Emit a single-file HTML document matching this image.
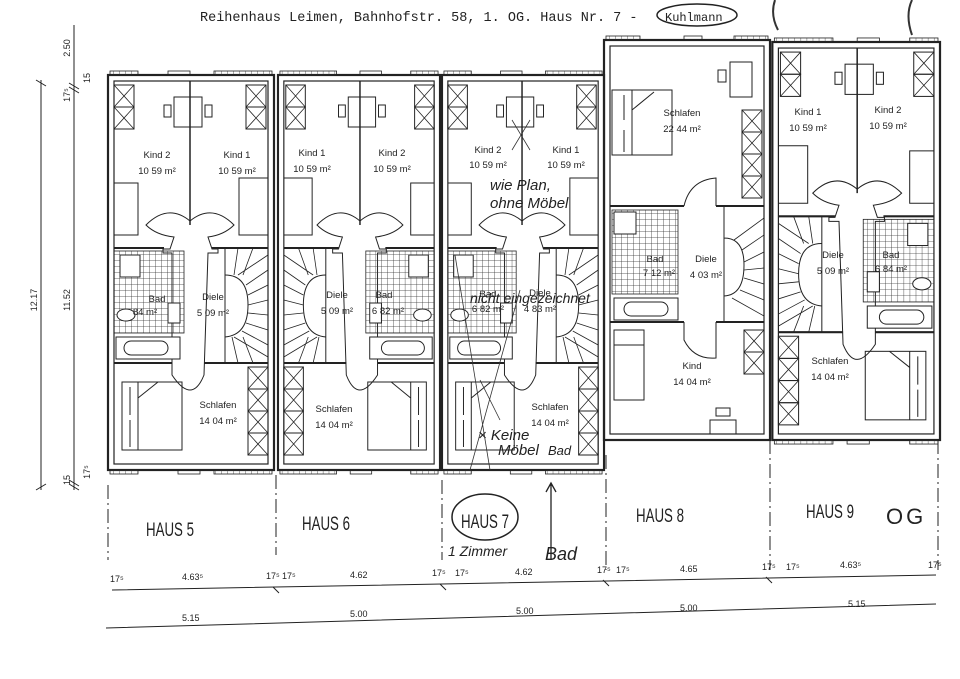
<!DOCTYPE html>
<html><head><meta charset="utf-8"><style>
html,body{margin:0;padding:0;background:#fff;}
svg{display:block}
text{font-family:"Liberation Sans",sans-serif;fill:#222}
.m{font-family:"Liberation Mono",monospace}
.h{font-family:"Liberation Sans",sans-serif;fill:#111;font-style:italic}
</style></head><body>
<svg width="960" height="679" viewBox="0 0 960 679" xmlns="http://www.w3.org/2000/svg">
<defs>
<pattern id="grid" width="6" height="6" patternUnits="userSpaceOnUse"><path d="M6 0V6M0 6H6" stroke="#333" stroke-width="0.8" fill="none"/></pattern>
<g id="xb"><rect x="0" y="0" width="20" height="22" fill="none" stroke="#222" stroke-width="1"/><path d="M0 0L20 22M20 0L0 22" stroke="#222" stroke-width="0.8"/></g>
<g id="hA" fill="none" stroke="#222">
 <rect x="0" y="0" width="166" height="395" stroke-width="2.2"/>
 <rect x="6" y="6" width="154" height="383" stroke-width="1.2"/>
 <rect x="2" y="-4" width="28" height="4" stroke-width="0.8" fill="url(#grid)"/>
 <rect x="60" y="-4" width="22" height="4" stroke-width="0.8"/>
 <rect x="106" y="-4" width="58" height="4" stroke-width="0.8" fill="url(#grid)"/>
 <rect x="2" y="395" width="28" height="4" stroke-width="0.8" fill="url(#grid)"/>
 <rect x="70" y="395" width="22" height="4" stroke-width="0.8"/>
 <rect x="106" y="395" width="58" height="4" stroke-width="0.8" fill="url(#grid)"/>
 <use href="#xb" x="6" y="10"/><use href="#xb" x="6" y="32"/>
 <use href="#xb" x="138" y="10"/><use href="#xb" x="138" y="32"/>
 <rect x="66" y="22" width="28" height="30" stroke-width="1"/>
 <rect x="56" y="30" width="7" height="12" stroke-width="1"/>
 <rect x="97" y="30" width="7" height="12" stroke-width="1"/>
 <path d="M82 6V150" stroke-width="1.5"/>
 <path d="M6 108H30V160H6M160 103H131V160H160" stroke-width="1"/>
 <path d="M38 150Q60 128 82 146Q104 128 126 150Q116 160 100 162L104 174H110V178H100L96 300Q84 330 64 300V178H55V174H62L66 162Q48 160 38 150Z" stroke-width="1"/>
 <path d="M6 173H56M104 173H160M6 288H64M96 288H160" stroke-width="2"/>
 <rect x="6" y="176" width="70" height="82" fill="url(#grid)" stroke-width="0.8"/>
 <rect x="12" y="180" width="20" height="22" fill="#fff" stroke-width="1"/>
 <ellipse cx="18" cy="240" rx="9" ry="6" fill="#fff" stroke-width="1"/>
 <rect x="60" y="228" width="12" height="20" fill="#fff" stroke-width="1"/>
 <rect x="8" y="262" width="64" height="22" fill="#fff" stroke-width="1"/>
 <rect x="16" y="266" width="44" height="14" rx="7" stroke-width="1"/>
 <path d="M117 173V288M117 173H160M117 288H160" stroke-width="1"/>
 <path d="M117 200Q140 200 140 230Q140 260 117 262" stroke-width="1"/>
 <path d="M160 180L130 200M160 195L138 210M160 210L140 220M160 225L140 230M160 240L140 238M160 255L138 248M160 270L134 256M160 282L126 262M145 173L135 200M130 173L126 200M145 288L135 262M130 288L124 262" stroke-width="0.8"/>
 <use href="#xb" x="140" y="292"/><use href="#xb" x="140" y="314"/><use href="#xb" x="140" y="336"/><use href="#xb" x="140" y="358"/>
 <rect x="14" y="307" width="60" height="68" stroke-width="1"/>
 <path d="M30 307V375M30 323L50 307M22 312V340M22 345V372" stroke-width="1"/>
</g>
<g id="hB" fill="none" stroke="#222">
 <rect x="0" y="0" width="166" height="400" stroke-width="2.2"/>
 <rect x="6" y="6" width="154" height="388" stroke-width="1.2"/>
 <rect x="2" y="-4" width="34" height="4" fill="url(#grid)" stroke-width="0.8"/>
 <rect x="80" y="-4" width="18" height="4" stroke-width="0.8"/>
 <rect x="130" y="-4" width="34" height="4" fill="url(#grid)" stroke-width="0.8"/>
 <rect x="126" y="22" width="22" height="35" stroke-width="1"/>
 <rect x="114" y="30" width="8" height="12" stroke-width="1"/>
 <rect x="8" y="50" width="60" height="65" stroke-width="1"/>
 <path d="M28 50V115M28 70L50 52M20 55V80M20 90V112" stroke-width="1"/>
 <use href="#xb" x="138" y="70"/><use href="#xb" x="138" y="92"/><use href="#xb" x="138" y="114"/><use href="#xb" x="138" y="136"/>
 <path d="M6 166H80M112 166H160M6 282H80M112 282H160" stroke-width="2"/>
 <path d="M80 166Q86 140 112 138V166M80 282V300Q90 320 112 318V282" stroke-width="1"/>
 <rect x="8" y="170" width="66" height="84" fill="url(#grid)" stroke-width="0.8"/>
 <rect x="10" y="172" width="22" height="22" fill="#fff" stroke-width="1"/>
 <rect x="10" y="258" width="64" height="22" fill="#fff" stroke-width="1"/>
 <rect x="20" y="262" width="44" height="14" rx="7" stroke-width="1"/>
 <path d="M120 166V282M120 166H160M120 282H160M120 198Q140 198 140 225Q140 255 120 256" stroke-width="1"/>
 <path d="M160 178L130 200M160 195L138 210M160 212L140 222M160 228L140 230M160 244L140 238M160 260L136 250M160 276L128 258" stroke-width="0.8"/>
 <use href="#xb" x="140" y="290"/><use href="#xb" x="140" y="312"/>
 <rect x="10" y="290" width="30" height="70" stroke-width="1"/>
 <path d="M10 305H40" stroke-width="1"/>
 <rect x="106" y="380" width="26" height="14" stroke-width="1"/>
 <rect x="112" y="368" width="14" height="8" stroke-width="1"/>
</g>
</defs>

<text x="200" y="21" class="m" font-size="13.5">Reihenhaus Leimen, Bahnhofstr. 58, 1. OG. Haus Nr. 7 -</text>
<text x="665" y="21" class="m" font-size="12">Kuhlmann</text>
<ellipse cx="697" cy="15" rx="40" ry="11" fill="none" stroke="#222" stroke-width="1.5"/>
<path d="M775 0Q770 15 778 30M912 0Q905 15 912 35" stroke="#333" stroke-width="2" fill="none"/>

<use href="#hA" x="108" y="75"/>
<use href="#hA" transform="translate(440,75) scale(-0.976,1)"/>
<use href="#hA" transform="translate(442,75) scale(0.976,1)"/>
<use href="#hB" x="604" y="40"/>
<use href="#hA" transform="translate(940,42) scale(-1.01,1.0076)"/>

<g font-size="9.5" text-anchor="middle">
<text x="157" y="158">Kind 2</text><text x="157" y="174">10 59 m²</text>
<text x="237" y="158">Kind 1</text><text x="237" y="174">10 59 m²</text>
<text x="213" y="300">Diele</text><text x="213" y="316">5 09 m²</text>
<text x="157" y="302">Bad</text><text x="145" y="315">84 m²</text>
<text x="218" y="408">Schlafen</text><text x="218" y="424">14 04 m²</text>

<text x="312" y="156">Kind 1</text><text x="312" y="172">10 59 m²</text>
<text x="392" y="156">Kind 2</text><text x="392" y="172">10 59 m²</text>
<text x="337" y="298">Diele</text><text x="337" y="314">5 09 m²</text>
<text x="384" y="298">Bad</text><text x="388" y="314">6 82 m²</text>
<text x="334" y="412">Schlafen</text><text x="334" y="428">14 04 m²</text>

<text x="488" y="153">Kind 2</text><text x="488" y="168">10 59 m²</text>
<text x="566" y="153">Kind 1</text><text x="566" y="168">10 59 m²</text>
<text x="540" y="296">Diele</text><text x="540" y="312">4 83 m²</text>
<text x="488" y="297">Bad</text><text x="488" y="312">6 82 m²</text>
<text x="550" y="410">Schlafen</text><text x="550" y="426">14 04 m²</text>

<text x="682" y="116">Schlafen</text><text x="682" y="132">22 44 m²</text>
<text x="655" y="262">Bad</text><text x="659" y="276">7 12 m²</text>
<text x="706" y="262">Diele</text><text x="706" y="278">4 03 m²</text>
<text x="692" y="369">Kind</text><text x="692" y="385">14 04 m²</text>

<text x="808" y="115">Kind 1</text><text x="808" y="131">10 59 m²</text>
<text x="888" y="113">Kind 2</text><text x="888" y="129">10 59 m²</text>
<text x="833" y="258">Diele</text><text x="833" y="274">5 09 m²</text>
<text x="891" y="258">Bad</text><text x="891" y="272">6 84 m²</text>
<text x="830" y="364">Schlafen</text><text x="830" y="380">14 04 m²</text>
</g>

<!-- left dims -->
<g stroke="#222" stroke-width="1" fill="none">
<path d="M41 80V490M74 25V490M36 80L46 86M36 490L46 484M69 83L79 89M69 87L79 93M69 480L79 486M69 484L79 490"/>
<path d="M108 485V560M276 475V555M442 480V560M606 455V570M770 440V570M938 440V570" stroke-dasharray="14,4,2,4"/>
<path d="M112 590L936 575M106 628L936 604"/>
<path d="M440 584L446 590M603 580L609 586M766 577L772 583M273 587L279 593"/>
</g>
<g font-size="9" fill="#222">
<text transform="translate(37,300) rotate(-90)" text-anchor="middle">12.17</text>
<text transform="translate(70,300) rotate(-90)" text-anchor="middle">11.52</text>
<text transform="translate(70,48) rotate(-90)" text-anchor="middle">2.50</text>
<text transform="translate(70,95) rotate(-90)" text-anchor="middle">17⁵</text>
<text transform="translate(90,78) rotate(-90)" text-anchor="middle">15</text>
<text transform="translate(70,480) rotate(-90)" text-anchor="middle">15</text>
<text transform="translate(90,472) rotate(-90)" text-anchor="middle">17⁵</text>
<text x="110" y="582">17⁵</text><text x="182" y="580">4.63⁵</text>
<text x="266" y="579">17⁵</text><text x="282" y="579">17⁵</text><text x="350" y="578">4.62</text>
<text x="432" y="576">17⁵</text><text x="455" y="576">17⁵</text><text x="515" y="575">4.62</text>
<text x="597" y="573">17⁵</text><text x="616" y="573">17⁵</text><text x="680" y="572">4.65</text>
<text x="762" y="570">17⁵</text><text x="786" y="570">17⁵</text><text x="840" y="568">4.63⁵</text><text x="928" y="568">17⁵</text>
<text x="182" y="621">5.15</text><text x="350" y="617">5.00</text><text x="516" y="614">5.00</text><text x="680" y="611">5.00</text><text x="848" y="607">5.15</text>
</g>
<g font-size="19" fill="#222">
<text x="146" y="536" textLength="48" lengthAdjust="spacingAndGlyphs">HAUS 5</text>
<text x="302" y="530" textLength="48" lengthAdjust="spacingAndGlyphs">HAUS 6</text>
<text x="461" y="528" textLength="48" lengthAdjust="spacingAndGlyphs">HAUS 7</text>
<text x="636" y="522" textLength="48" lengthAdjust="spacingAndGlyphs">HAUS 8</text>
<text x="806" y="518" textLength="48" lengthAdjust="spacingAndGlyphs">HAUS 9</text>
</g>
<text x="886" y="524" font-family="Liberation Serif,serif" font-size="22" fill="#111" letter-spacing="3">OG</text>
<ellipse cx="485" cy="517" rx="33" ry="23" fill="none" stroke="#222" stroke-width="1.5"/>
<path d="M551 560V484M546 492L551 483L556 492" stroke="#222" stroke-width="1.3" fill="none"/>

<!-- handwriting -->
<g class="h" font-size="15">
<text x="490" y="190">wie Plan,</text>
<text x="490" y="208">ohne Möbel</text>
<text x="470" y="303" font-size="14">nicht eingezeichnet</text>
<text x="478" y="440">× Keine</text>
<text x="498" y="455">Möbel</text>
<text x="548" y="455" font-size="13">Bad</text>
<text x="448" y="556" font-size="14">1 Zimmer</text>
<text x="545" y="560" font-size="18">Bad</text>
</g>
<path d="M512 120L530 150M530 120L512 150M455 255L490 470M520 290L470 470M480 380L500 420" stroke="#333" stroke-width="0.8" fill="none"/>
</svg>
</body></html>
